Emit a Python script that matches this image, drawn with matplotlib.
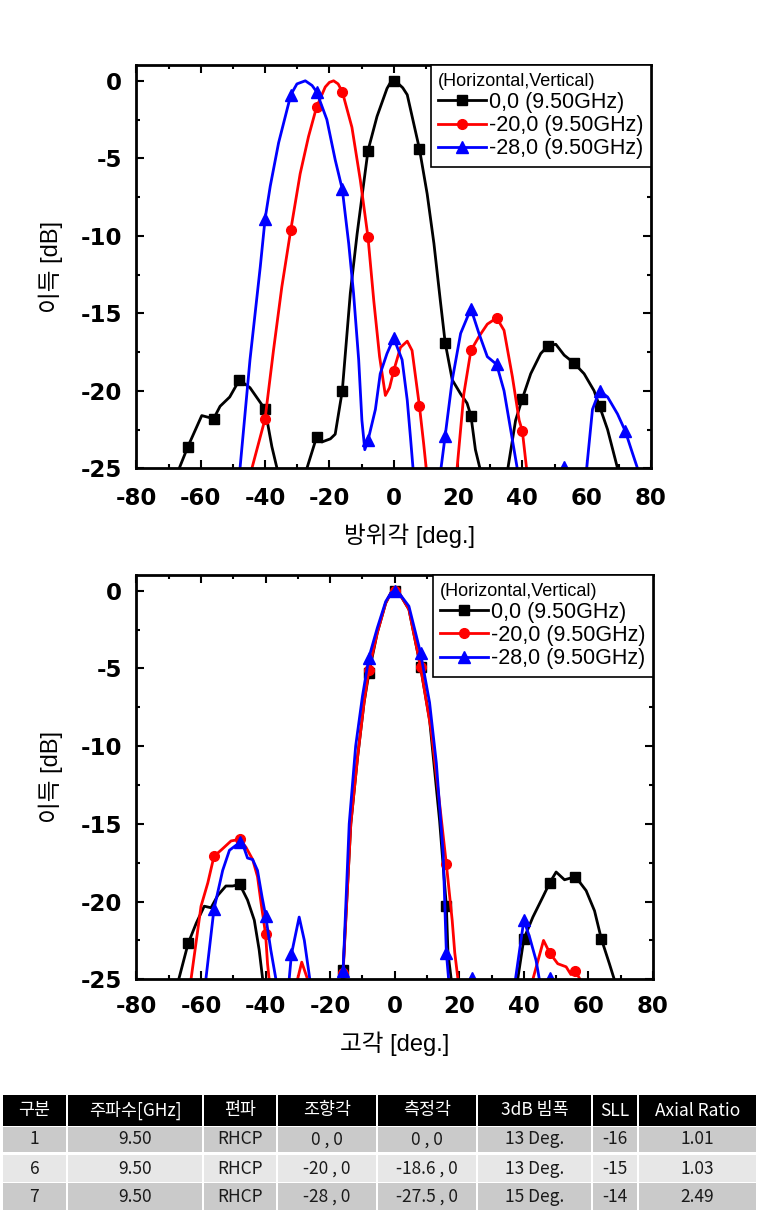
import numpy as np
import matplotlib
matplotlib.use("Agg")
import matplotlib.pyplot as plt
from matplotlib.patches import Rectangle

plt.rcParams['axes.unicode_minus'] = False

# ---------------- data ----------------
# azimuth cut (top plot): angle [deg], gain [dB]
az_black_ang = [-70, -66.7, -64, -59.7, -56, -54, -51, -48, -44.7, -40, -37.9, -36.3, -32,
                -27, -24, -22.3, -19.7, -18.2, -16, -13.5, -11.4, -8, -5.2, -2.1, -1, 0, 1.5, 2.8,
                4.2, 8, 10.4, 12.5, 14.5, 16, 18.2, 20.8, 22.8, 24, 25.4, 26.8, 32, 35.5, 37.9, 40,
                42.6, 45.7, 48, 50.4, 53, 56, 59.2, 62.3, 64, 66.5, 69.6, 73]
az_black_db = [-30, -25, -23.6, -21.6, -21.8, -21.0, -20.4, -19.3, -19.8, -21.2, -23.6, -25, -30,
               -25, -23.0, -23.3, -23.1, -22.8, -20.0, -13.7, -9.9, -4.5, -2.3, -0.5, -0.1, 0, -0.2, -0.45,
               -0.9, -4.4, -7.3, -10.5, -14.2, -16.9, -19.3, -20.2, -20.8, -21.6, -23.8, -25, -30, -25, -21.9, -20.5,
               -18.9, -17.6, -17.1, -17.0, -17.7, -18.2, -18.9, -20.0, -21.0, -22.5, -25, -29]

az_red_ang = [-47, -44.1, -40, -37.4, -34.8, -32, -29.1, -26.5, -24, -21.3, -20, -18.7, -17.3,
              -16, -13, -10.4, -8, -6.2, -4.4, -2.6, -1.3, 0, 2.1, 4.2, 5.7, 8, 9.3, 10.1, 15,
              19.7, 21.8, 24, 26.5, 29.1, 32, 34.3, 36.9, 39, 40, 41.3, 44]
az_red_db = [-30, -25, -21.8, -17.4, -13.3, -9.6, -6.0, -3.6, -1.7, -0.4, -0.1, 0, -0.2,
             -0.7, -3.0, -6.4, -10.1, -14.2, -17.8, -20.3, -19.8, -18.7, -17.2, -16.8, -17.4, -21.0, -23.4, -25, -30,
             -25, -20.2, -17.4, -16.5, -15.7, -15.3, -16.1, -19.1, -21.9, -22.6, -25, -30]

az_blue_ang = [-50, -47.8, -44.7, -41.5, -40, -38.4, -35.8, -32, -30.1, -27.5, -25.4, -24, -20.8,
               -18.2, -16, -14, -12.5, -10.9, -9.9, -9.0, -8, -5.7, -4.2, -2.1, 0, 2.6, 4.2, 5.2,
               6.0, 10, 14.7, 16, 18.2, 20.8, 24, 26.5, 29.1, 32, 34.3, 36.6, 38.4, 45, 52.8, 56,
               60, 61.8, 64, 66.5, 69.6, 72, 74.2, 75.8, 78]
az_blue_db = [-30, -25, -18.0, -12.0, -8.9, -6.8, -4.0, -0.9, -0.2, 0, -0.3, -0.7, -2.5,
              -5.1, -7.0, -10.5, -13.7, -18.0, -21.9, -23.8, -23.2, -21.2, -18.9, -17.6, -16.6, -18.0, -20.6, -23.0,
              -25, -30, -25, -22.9, -19.3, -16.3, -14.7, -16.3, -17.8, -18.3, -20.0, -22.8, -25, -30, -24.9, -30,
              -25, -21.2, -20.0, -20.4, -21.5, -22.6, -24.0, -25, -29]
az_blue_extra = [52.8]

# elevation cut (bottom plot)
el_black_ang = [-70, -66.9, -64, -61.5, -59, -56.9, -54.8, -52.3, -50.2, -48, -45.6, -43.5, -42,
                -40.9, -30, -16.5, -16, -13.6, -11.5, -9.5, -8, -5.4, -2.8, -1.2, 0, 1.5, 4.4, 8,
                10.8, 13.9, 16, 16.5, 17.5, 24, 38.1, 40, 42.8, 45.9, 48, 50, 52.6, 56, 59.3, 61.9,
                64, 66.5, 68, 72]
el_black_db = [-30, -25, -22.7, -21.4, -20.3, -20.4, -19.6, -19.0, -19.0, -18.9, -19.9, -21.2, -23.1,
               -25, -32, -27, -24.4, -15.0, -10.7, -7.2, -5.3, -2.7, -0.8, -0.15, 0, -0.2, -1.2, -4.9,
               -8.3, -14.8, -20.3, -23.3, -25, -30, -25, -22.4, -21.0, -19.7, -18.8, -18.1, -18.6, -18.4, -19.3, -20.6,
               -22.4, -24.0, -25, -30]

el_red_ang = [-66, -63.1, -60, -57.9, -56, -53.3, -50.7, -48, -46.1, -44, -42.5, -41.4, -40,
              -39.4, -38.9, -34, -30.1, -28.8, -27, -22, -16.5, -16, -13.6, -11.5, -9.5, -8, -5.4,
              -2.8, -1.2, 0, 1.5, 4.4, 8, 11.3, 13.9, 16, 17.8, 18.6, 19.6, 24, 42.8, 46.1, 48, 50.5,
              53.1, 54.6, 56, 57.4, 60]
el_red_db = [-30, -25, -20.3, -18.8, -17.1, -16.6, -16.1, -16.0, -16.5, -17.3, -18.4, -20.1, -22.1,
             -24.0, -25, -30, -25, -23.9, -25, -30, -27, -24.6, -15.0, -10.7, -7.2, -5.1, -2.7,
             -0.8, -0.15, 0, -0.2, -1.2, -4.9, -9.0, -13.7, -17.6, -21.2, -23.3, -25, -30, -25, -22.5, -23.3, -24.0,
             -24.2, -24.7, -24.5, -25, -30]

el_blue_ang = [-62, -58.5, -56, -53.3, -51.2, -48, -46.6, -45.6, -44, -42.5, -41.1, -40, -38.4,
               -36.8, -34, -32, -29.6, -28, -26.3, -22, -16.5, -16, -14.1, -12.1, -10, -8, -5.4,
               -2.8, -1.2, 0, 1.5, 4.4, 8, 10.8, 12.9, 15, 15.5, 16, 16.7, 20, 24, 28, 37.4, 40, 41.8,
               43.8, 44.8, 46.5, 48, 50]
el_blue_db = [-30, -25, -20.5, -18.0, -16.7, -16.2, -16.6, -17.2, -17.3, -18.0, -19.7, -20.9, -23.1,
              -25, -28, -23.4, -21.0, -22.5, -25, -30, -27, -24.5, -15.0, -10.0, -6.8, -4.3, -2.4,
              -0.7, -0.15, 0, -0.2, -1.0, -4.0, -7.2, -11.1, -16.9, -20.1, -23.3, -25, -30, -24.9, -30, -25, -21.2, -22.3,
              -23.8, -25, -28, -24.9, -30]

legend_title = "(Horizontal,Vertical)"
legend_labels = ["0,0 (9.50GHz)", "-20,0 (9.50GHz)", "-28,0 (9.50GHz)"]

table_header = ["구분", "주파수[GHz]", "편파", "조향각", "측정각", "3dB 빔폭", "SLL", "Axial Ratio"]
table_rows = [
    ["1", "9.50", "RHCP", "0 , 0", "0 , 0", "13 Deg.", "-16", "1.01"],
    ["6", "9.50", "RHCP", "-20 , 0", "-18.6 , 0", "13 Deg.", "-15", "1.03"],
    ["7", "9.50", "RHCP", "-28 , 0", "-27.5 , 0", "15 Deg.", "-14", "2.49"],
]

# ---------------- style ----------------
colors = ["black", "red", "blue"]
markers = ["s", "o", "^"]
msizes = [7, 7, 8]
label_font = ["Liberation Sans", "Noto Sans CJK KR"]


def mark_idx(ang, extra=()):
    return [i for i, a in enumerate(ang) if a % 8 == 0 or a in extra]


def draw(ax, series, xlabel, xlab_x, xlab_y, xpad):
    for (ang, db, extra), c, m, ms, lab in zip(series, colors, markers, msizes, legend_labels):
        ax.plot(ang, db, color=c, lw=2.0, marker=m, ms=ms,
                markevery=mark_idx(ang, extra), label=lab, solid_joinstyle="round")
    ax.set_xlim(-80, 80)
    ax.set_ylim(-25, 1)
    ax.set_xticks(range(-80, 81, 20))
    ax.set_xticks(range(-70, 80, 20), minor=True)
    ax.set_yticks(range(-25, 1, 5))
    ax.set_yticks(np.arange(-22.5, 0, 5), minor=True)
    ax.tick_params(which="both", direction="in", top=True, right=True, width=1.5)
    ax.tick_params(which="major", length=6)
    ax.tick_params(which="minor", length=3)
    ax.tick_params(axis="x", pad=xpad)
    ax.tick_params(axis="y", pad=10.5)
    for lbl in ax.get_xticklabels() + ax.get_yticklabels():
        lbl.set_fontfamily("DejaVu Sans")
        lbl.set_fontweight("bold")
        lbl.set_fontsize(16.5)
    for s in ax.spines.values():
        s.set_linewidth(2.0)
    ax.set_xlabel(xlabel, family=label_font, fontsize=17)
    ax.set_ylabel("이득 [dB]", family=label_font, fontsize=17)
    ax.xaxis.set_label_coords(xlab_x, xlab_y)
    ax.yaxis.set_label_coords(-0.143, 0.5)
    leg = ax.legend(title=legend_title, loc="upper right", bbox_to_anchor=(1, 1),
                    borderaxespad=0, fancybox=False, framealpha=1, edgecolor="black",
                    prop={"family": "Liberation Sans", "size": 15.5},
                    title_fontproperties={"family": "Liberation Sans", "size": 13},
                    alignment="left", handlelength=2.2, handletextpad=0.15,
                    labelspacing=0.1, borderpad=0.35, numpoints=1)
    leg.get_frame().set_linewidth(1.2)


fig = plt.figure(figsize=(7.59, 12.16), dpi=100)

ax1 = fig.add_axes([0.1798, 0.6149, 0.6779, 0.3314])
draw(ax1, [(az_black_ang, az_black_db, ()), (az_red_ang, az_red_db, ()),
           (az_blue_ang, az_blue_db, az_blue_extra)],
     "방위각 [deg.]", 0.53, -0.136, 13.5)

ax2 = fig.add_axes([0.1798, 0.1947, 0.6805, 0.3323])
draw(ax2, [(el_black_ang, el_black_db, ()), (el_red_ang, el_red_db, ()),
           (el_blue_ang, el_blue_db, (24, 48))],
     "고각 [deg.]", 0.5, -0.130, 11.5)

# ---------------- table (figure pixel coordinates) ----------------
tab = fig.add_axes([0, 0, 1, 1], zorder=-1)
tab.set_xlim(0, 759)
tab.set_ylim(1216, 0)
tab.axis("off")

col_edges = [2, 67, 203, 277, 377, 477, 592, 638, 757]
row_tops = [1095, 1127, 1155, 1183]
row_bots = [1126, 1152, 1182, 1210]
row_fill = ["#000000", "#cacaca", "#e7e7e7", "#cacaca"]
table_font = ["Noto Sans CJK KR"]

for r, cells in enumerate([table_header] + table_rows):
    for c, txt in enumerate(cells):
        x0, x1 = col_edges[c], col_edges[c + 1]
        tab.add_patch(Rectangle((x0 + 1, row_tops[r]), x1 - x0 - 2, row_bots[r] - row_tops[r],
                                facecolor=row_fill[r], edgecolor="none"))
        tab.text((x0 + x1) / 2, (row_tops[r] + row_bots[r]) / 2, txt,
                 ha="center", va="center", fontsize=12.5, family=table_font,
                 color="white" if r == 0 else "#1a1a1a")

fig.savefig("out.png", dpi=100)
